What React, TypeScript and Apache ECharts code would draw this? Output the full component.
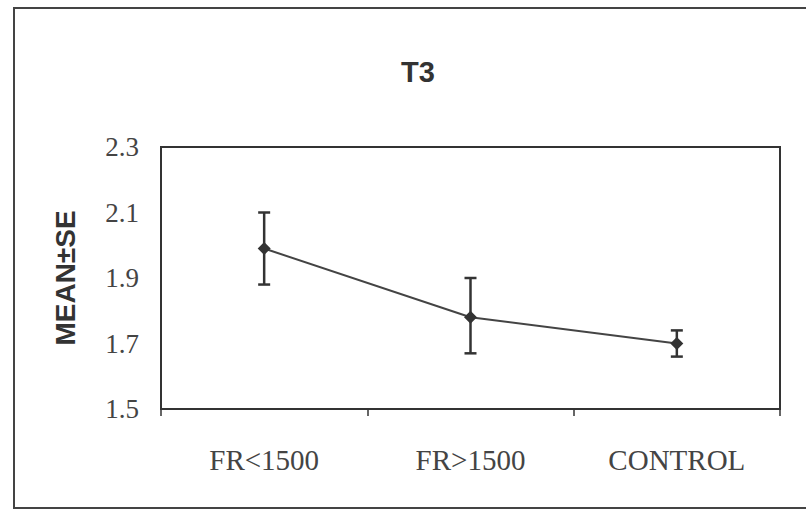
import React, { useEffect, useRef } from "react";
import * as echarts from "echarts";

const categories = ["FR<1500", "FR>1500", "CONTROL"];
const means = [1.99, 1.78, 1.70];
const upper = [2.10, 1.90, 1.74];
const lower = [1.88, 1.67, 1.66];
const yTicks = { min: 1.5, max: 2.3, interval: 0.2 };

export default function App() {
  const ref = useRef<HTMLDivElement>(null);
  useEffect(() => {
    const chart = echarts.init(ref.current!, null, { renderer: "svg" });
    const errData = categories.map((_, i) => [i, lower[i], upper[i]]);
    chart.setOption({
      animation: false,
      backgroundColor: "#ffffff",
      title: {
        text: "T3",
        left: 413,
        top: 52,
        textAlign: "center",
        textStyle: { fontFamily: "Liberation Sans", fontWeight: "bold", fontSize: 29, color: "#333" },
      },
      graphic: [
        {
          type: "rect",
          shape: { x: 14, y: 8, width: 810, height: 500 },
          style: { fill: "none", stroke: "#444", lineWidth: 2 },
          silent: true,
        },
      ],
      grid: { left: 161, right: 26, top: 147, bottom: 113, show: true, borderColor: "#333", borderWidth: 2, backgroundColor: "transparent" },
      xAxis: {
        type: "category",
        data: categories,
        boundaryGap: true,
        axisLine: { lineStyle: { color: "#333", width: 2 } },
        axisTick: { show: true, inside: false, length: 7, lineStyle: { color: "#333", width: 1.5 } },
        axisLabel: { fontFamily: "Liberation Serif", fontSize: 29, color: "#444", margin: 36 },
        splitLine: { show: false },
      },
      yAxis: {
        type: "value",
        min: yTicks.min,
        max: yTicks.max,
        interval: yTicks.interval,
        name: "MEAN±SE",
        nameLocation: "middle",
        nameGap: 82,
        nameRotate: 90,
        nameTextStyle: { fontFamily: "Liberation Sans", fontWeight: "bold", fontSize: 28, color: "#333" },
        axisLine: { show: true, lineStyle: { color: "#333", width: 2 } },
        axisTick: { show: false },
        axisLabel: {
          fontFamily: "Liberation Serif",
          fontSize: 27,
          color: "#444",
          margin: 22,
          formatter: (v: number) => v.toFixed(1),
        },
        splitLine: { show: false },
      },
      series: [
        {
          type: "line",
          data: means,
          symbol: "diamond",
          symbolSize: 13,
          lineStyle: { color: "#444", width: 2 },
          itemStyle: { color: "#333" },
          z: 3,
        },
        {
          type: "custom",
          data: errData,
          z: 2,
          renderItem: (params: any, api: any) => {
            const x = api.value(0);
            const lo = api.coord([x, api.value(1)]);
            const hi = api.coord([x, api.value(2)]);
            const hw = 6;
            const style = { stroke: "#333", lineWidth: 2.5, fill: "none" };
            return {
              type: "group",
              children: [
                { type: "line", shape: { x1: hi[0], y1: hi[1], x2: lo[0], y2: lo[1] }, style },
                { type: "line", shape: { x1: hi[0] - hw, y1: hi[1], x2: hi[0] + hw, y2: hi[1] }, style },
                { type: "line", shape: { x1: lo[0] - hw, y1: lo[1], x2: lo[0] + hw, y2: lo[1] }, style },
              ],
            };
          },
        },
      ],
    });
    return () => chart.dispose();
  }, []);
  return <div ref={ref} style={{ position: "absolute", left: 0, top: 0, width: 806, height: 522 }} />;
}
